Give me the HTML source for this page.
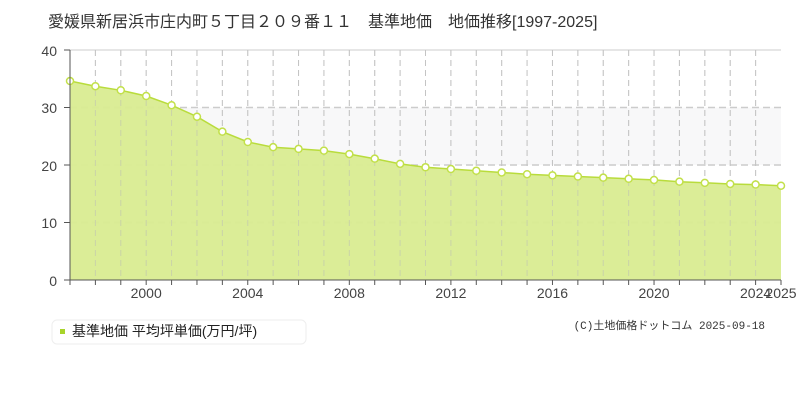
<!DOCTYPE html><html><head><meta charset="utf-8"><style>body{margin:0;background:#fff;width:800px;height:400px;overflow:hidden;font-family:"Liberation Sans","Noto Sans CJK JP",sans-serif}</style></head><body>
<svg id="s" width="800" height="400" xmlns="http://www.w3.org/2000/svg" font-family="Liberation Sans, Noto Sans CJK JP, sans-serif">
<text x="48" y="27" font-size="16" fill="#333">愛媛県新居浜市庄内町５丁目２０９番１１　基準地価　地価推移[1997-2025]</text>
<rect x="70" y="107.5" width="711" height="57.5" fill="#f8f8f9"/>
<line x1="70" y1="50" x2="781" y2="50" stroke="#ddd" stroke-width="1.5"/>
<g id="g"></g>
<text x="57" y="56" font-size="14" fill="#444" text-anchor="end">40</text>
<text x="57" y="113" font-size="14" fill="#444" text-anchor="end">30</text>
<text x="57" y="171" font-size="14" fill="#444" text-anchor="end">20</text>
<text x="57" y="228" font-size="14" fill="#444" text-anchor="end">10</text>
<text x="57" y="286" font-size="14" fill="#444" text-anchor="end">0</text>
<rect x="52" y="320" width="254" height="24" rx="5" fill="#fff" stroke="#eee"/>
<rect x="60" y="329" width="5" height="5" fill="#a8d42a"/>
<text x="72" y="336" font-size="14" fill="#222">基準地価 平均坪単価(万円/坪)</text>
<text x="765" y="329" font-size="11" fill="#333" text-anchor="end" font-family="Liberation Mono, Noto Sans CJK JP, monospace">(C)土地価格ドットコム 2025-09-18</text>
</svg>
<script>
var v=[34.6,33.7,33.0,32.0,30.4,28.4,25.8,24.0,23.1,22.8,22.5,21.9,21.1,20.2,19.6,19.3,19.0,18.7,18.4,18.2,18.0,17.8,17.6,17.4,17.1,16.9,16.7,16.6,16.4];
var X=i=>70+i*711/28,Y=a=>280-a*5.75,h='';
var pts=v.map((a,i)=>X(i).toFixed(1)+','+Y(a).toFixed(1));
for(var i=1;i<28;i++)h+='<line x1="'+X(i)+'" y1="50" x2="'+X(i)+'" y2="280" stroke="#ccc" stroke-dasharray="6,4"/>';
[10,20,30].forEach(a=>h+='<line x1="70" y1="'+Y(a)+'" x2="781" y2="'+Y(a)+'" stroke="#ccc" stroke-width="1.5" stroke-dasharray="7,4"/>');
h+='<polygon points="70,280 '+pts.join(' ')+' 781,280" fill="#d9ec91" fill-opacity="0.95"/>';
h+='<polyline points="'+pts.join(' ')+'" fill="none" stroke="#b9dc3c" stroke-width="1.5"/>';
for(var i=1;i<28;i++)h+='<line x1="'+X(i)+'" y1="50" x2="'+X(i)+'" y2="280" stroke="#bbb" stroke-opacity="0.5" stroke-dasharray="6,4"/>';
v.forEach((a,i)=>h+='<circle cx="'+X(i)+'" cy="'+Y(a)+'" r="3.5" fill="#fff" stroke="#c2e04a" stroke-width="1.5"/>');
h+='<line x1="70" y1="50" x2="70" y2="280" stroke="#555"/><line x1="70" y1="280" x2="781" y2="280" stroke="#555"/>';
for(var i=0;i<=28;i++)h+='<line x1="'+X(i)+'" y1="280" x2="'+X(i)+'" y2="285" stroke="#555"/>';
h+='<line x1="64" y1="50" x2="70" y2="50" stroke="#555"/><line x1="64" y1="107.5" x2="70" y2="107.5" stroke="#555"/><line x1="64" y1="165" x2="70" y2="165" stroke="#555"/><line x1="64" y1="222.5" x2="70" y2="222.5" stroke="#555"/><line x1="64" y1="280" x2="70" y2="280" stroke="#555"/>';
[2000,2004,2008,2012,2016,2020,2024,2025].forEach(y=>h+='<text x="'+X(y-1997)+'" y="298" font-size="14" fill="#444" text-anchor="middle">'+y+'</text>');
document.getElementById('g').innerHTML=h;
</script>
</body></html>
